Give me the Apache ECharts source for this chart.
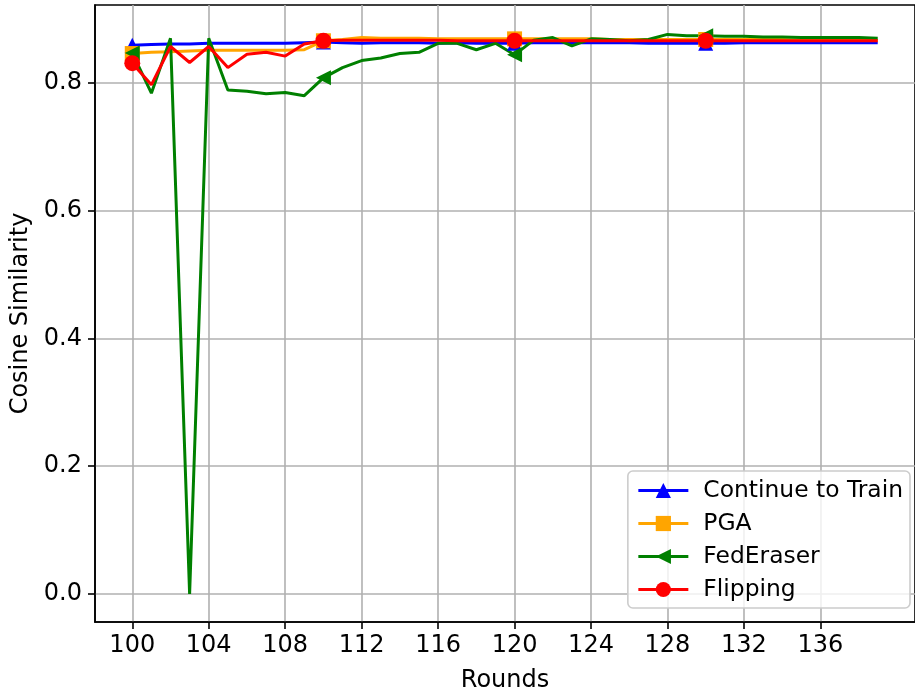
<!DOCTYPE html>
<html>
<head>
<meta charset="utf-8">
<script src="https://cdn.jsdelivr.net/npm/echarts@6/dist/echarts.min.js"></script>
<style>
html,body{margin:0;padding:0;background:#fff;}
#chart{width:915px;height:691px;}
</style>
</head>
<body>
<div id="chart"></div>
<script>
// ---- Data ----
var rounds = [100,101,102,103,104,105,106,107,108,109,110,111,112,113,114,115,116,117,118,119,
              120,121,122,123,124,125,126,127,128,129,130,131,132,133,134,135,136,137,138,139];

var continueToTrain = [0.859,0.860,0.861,0.861,0.862,0.862,0.862,0.862,0.862,0.863,
                       0.864,0.863,0.862,0.863,0.863,0.863,0.862,0.863,0.862,0.862,
                       0.862,0.863,0.863,0.863,0.863,0.863,0.863,0.862,0.862,0.862,
                       0.862,0.862,0.863,0.863,0.863,0.863,0.863,0.863,0.863,0.863];

var pga = [0.846,0.848,0.849,0.850,0.851,0.851,0.851,0.851,0.851,0.852,
           0.866,0.868,0.871,0.870,0.870,0.870,0.869,0.869,0.869,0.869,
           0.869,0.869,0.869,0.869,0.869,0.868,0.868,0.868,0.868,0.868,
           0.868,0.868,0.868,0.868,0.868,0.867,0.867,0.867,0.867,0.867];

var fedEraser = [0.847,0.784,0.870,0.000,0.870,0.789,0.787,0.783,0.785,0.780,
                 0.808,0.824,0.835,0.839,0.846,0.848,0.862,0.862,0.852,0.862,
                 0.844,0.867,0.871,0.858,0.869,0.868,0.866,0.868,0.876,0.874,
                 0.874,0.873,0.873,0.872,0.872,0.871,0.871,0.871,0.871,0.870];

var flipping = [0.831,0.797,0.857,0.832,0.857,0.824,0.845,0.848,0.842,0.861,
                0.866,0.867,0.867,0.867,0.867,0.867,0.867,0.866,0.866,0.866,
                0.866,0.866,0.866,0.866,0.866,0.866,0.866,0.866,0.866,0.866,
                0.866,0.866,0.866,0.866,0.866,0.866,0.866,0.866,0.866,0.866];

var xTicks = [100,104,108,112,116,120,124,128,132,136];
var yTicks = [0.0,0.2,0.4,0.6,0.8];

var seriesNames = ['Continue to Train','PGA','FedEraser','Flipping'];

// ---- Chart ----
function pairs(vals){ return rounds.map(function(r,i){ return [r, vals[i]]; }); }
var FONT = 'DejaVu Sans';

function mkSeries(name, vals, color, symbol, size, rot){
  return {
    name: name,
    type: 'line',
    data: pairs(vals),
    color: color,
    lineStyle: {color: color, width: 3},
    itemStyle: {color: color},
    symbol: symbol,
    symbolRotate: rot || 0,
    symbolSize: function(v, p){ return (p.dataIndex % 10 === 0) ? size : 0; },
    showSymbol: true,
    showAllSymbol: true,
    emphasis: {disabled: true},
    animation: false
  };
}

var chart = echarts.init(document.getElementById('chart'), null, {renderer: 'canvas'});
chart.setOption({
  animation: false,
  backgroundColor: '#ffffff',
  textStyle: {fontFamily: FONT},
  grid: {left: 95, right: 0, top: 5, bottom: 69, outerBoundsMode: 'none', containLabel: false,
         show: true, borderColor: '#000', borderWidth: 1.6, backgroundColor: 'transparent'},
  xAxis: {
    type: 'value',
    min: 98.05, max: 140.95,
    name: 'Rounds', nameLocation: 'middle', nameGap: 47,
    nameTextStyle: {fontFamily: FONT, fontSize: 24, color: '#000'},
    axisLine: {show: true, onZero: false, lineStyle: {color: '#000', width: 1.6}},
    axisTick: {show: true, length: 7, lineStyle: {color: '#000', width: 1.6}, customValues: xTicks},
    axisLabel: {customValues: xTicks, fontFamily: FONT, fontSize: 24, color: '#000', margin: 12},
    splitLine: {show: true, lineStyle: {color: '#b0b0b0', width: 1.6}}
  },
  yAxis: {
    type: 'value',
    min: -0.0438, max: 0.922,
    name: 'Cosine Similarity', nameLocation: 'middle', nameGap: 62,
    nameTextStyle: {fontFamily: FONT, fontSize: 24, color: '#000'},
    axisLine: {show: true, onZero: false, lineStyle: {color: '#000', width: 1.6}},
    axisTick: {show: true, length: 7, lineStyle: {color: '#000', width: 1.6}, customValues: yTicks},
    axisLabel: {customValues: yTicks, fontFamily: FONT, fontSize: 24, color: '#000', margin: 13,
      formatter: function(v){ return v.toFixed(1); }},
    splitLine: {show: true, lineStyle: {color: '#b0b0b0', width: 1.6}}
  },
  legend: {
    data: seriesNames,
    orient: 'vertical',
    right: 5, bottom: 83,
    itemWidth: 50, itemHeight: 19, itemGap: 10,
    padding: [8, 7, 7, 9],
    backgroundColor: 'rgba(255,255,255,0.8)',
    borderColor: '#cccccc', borderWidth: 1.6, borderRadius: 5,
    lineStyle: {width: 3},
    textStyle: {fontFamily: FONT, fontSize: 23.4, color: '#000', padding: [0,0,0,10]}
  },
  series: [
    mkSeries(seriesNames[0], continueToTrain, '#0000ff', 'triangle', 15, 0),
    mkSeries(seriesNames[1], pga, '#ffa500', 'rect', 15, 0),
    mkSeries(seriesNames[2], fedEraser, '#008000', 'triangle', 15, 90),
    mkSeries(seriesNames[3], flipping, '#ff0000', 'circle', 16, 0)
  ]
});
</script>
</body>
</html>
